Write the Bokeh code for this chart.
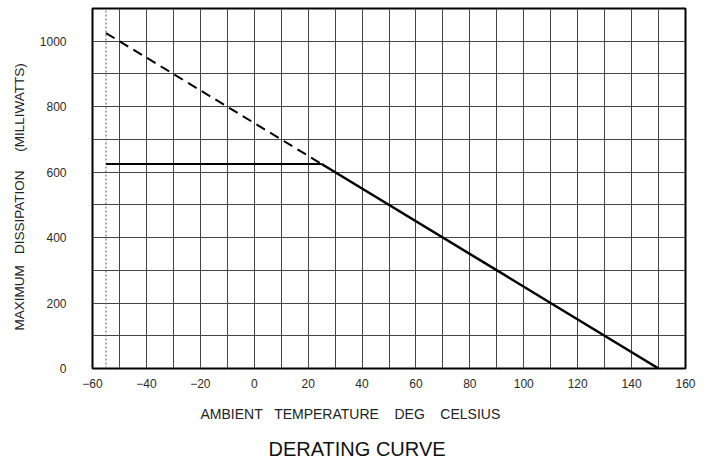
from bokeh.plotting import figure
from bokeh.models import FixedTicker, Title, Range1d
from bokeh.embed import file_html
from bokeh.resources import INLINE

# ---- data ----
x_tick_values = [-60, -40, -20, 0, 20, 40, 60, 80, 100, 120, 140, 160]
y_tick_values = [0, 200, 400, 600, 800, 1000]
x_grid_values = [-60, -50, -40, -30, -20, -10, 0, 10, 20, 30, 40, 50, 60,
                 70, 80, 90, 100, 110, 120, 130, 140, 150, 160]
y_grid_values = [0, 100, 200, 300, 400, 500, 600, 700, 800, 900, 1000, 1100]

min_temp_t = [-55, -55]
min_temp_p = [0, 1100]

flat_t = [-55, 25]
flat_p = [625, 625]

extension_t = [-55, 25]
extension_p = [1025, 625]

derating_t = [25, 150]
derating_p = [625, 0]

FONT = "Liberation Sans"
NB = "\u00a0"

x_label_text = "AMBIENT " + NB * 2 + "TEMPERATURE " + NB * 3 + "DEG " + NB * 3 + "CELSIUS"
y_label_text = "MAXIMUM " + NB * 2 + "DISSIPATION " + NB * 4 + "(MILLIWATTS)"
title_text = "DERATING CURVE"

p = figure(width=714, height=460, output_backend="svg", toolbar_location=None,
           x_range=Range1d(-60, 160), y_range=Range1d(0, 1100),
           min_border_left=92, min_border_right=29, min_border_top=8,
           min_border_bottom=0)

p.outline_line_color = "black"
p.outline_line_width = 2
p.background_fill_color = "white"
p.border_fill_color = "white"

# grids
p.xgrid.ticker = FixedTicker(ticks=x_grid_values)
p.ygrid.ticker = FixedTicker(ticks=y_grid_values)
for g in (p.xgrid, p.ygrid):
    g.grid_line_color = "#454545"
    g.grid_line_width = 1
    g.grid_line_alpha = 1.0

# axes
p.xaxis.ticker = FixedTicker(ticks=x_tick_values)
p.yaxis.ticker = FixedTicker(ticks=y_tick_values)
for ax in (p.xaxis[0], p.yaxis[0]):
    ax.axis_line_color = None
    ax.major_tick_line_color = None
    ax.minor_tick_line_color = None
    ax.major_tick_out = 0
    ax.major_tick_in = 0
    ax.minor_tick_out = 0
    ax.minor_tick_in = 0
    ax.major_label_text_font = FONT
    ax.major_label_text_font_size = "12px"
    ax.major_label_text_color = "#2a2a2a"
p.xaxis.major_label_standoff = 10
p.yaxis.major_label_standoff = 26

# lines
p.line(min_temp_t, min_temp_p, line_color="#555555", line_width=1, line_dash="2 2")
p.line(flat_t, flat_p, line_color="black", line_width=2)
p.line(extension_t, extension_p, line_color="black", line_width=2, line_dash="10 6")
p.line(derating_t, derating_p, line_color="black", line_width=2.5)

# labels
xlab = Title(text=x_label_text, align="left", offset=108, standoff=26,
             text_font=FONT, text_font_size="14px", text_font_style="normal",
             text_color="#222222")
p.add_layout(xlab, "below")
ttl = Title(text=title_text, align="left", offset=176, standoff=2,
            text_font=FONT, text_font_size="20px", text_font_style="normal",
            text_color="#111111")
p.add_layout(ttl, "below")
ylab = Title(text=y_label_text, align="left", offset=38, standoff=19,
             text_font=FONT, text_font_size="13.5px", text_font_style="normal",
             text_color="#222222")
p.add_layout(ylab, "left")

open("out.html", "w").write(file_html(p, INLINE))
